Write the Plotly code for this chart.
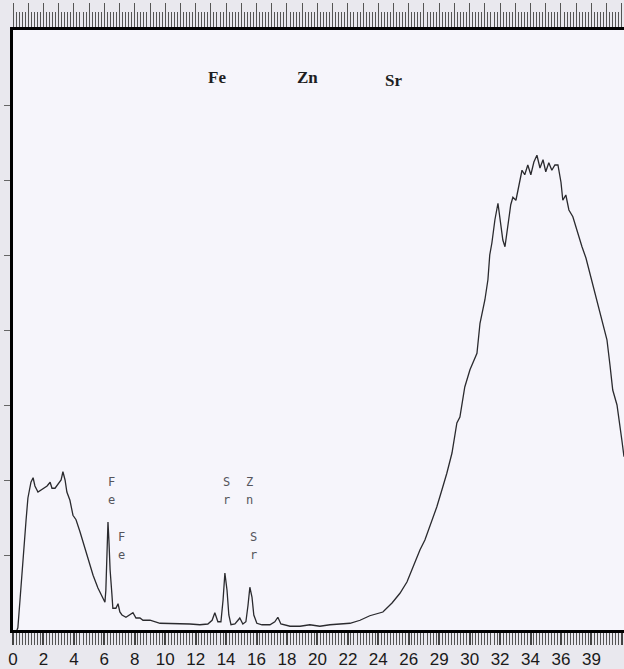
import plotly.graph_objects as go

# spectrum (x in tick-index units, y in counts)
energy = [0.13, 0.16, 0.23, 0.33, 0.43, 0.49, 0.56, 0.59, 0.66, 0.72, 0.82, 0.92, 1.02, 1.12,
          1.22, 1.28, 1.38, 1.48, 1.58, 1.64, 1.71, 1.77, 1.87, 1.97, 2.07, 2.20, 2.30, 2.46,
          2.63, 2.79, 2.96, 3.02, 3.05, 3.09, 3.12, 3.15, 3.19, 3.25, 3.28, 3.38, 3.45, 3.51,
          3.58, 3.71, 3.84, 3.94, 4.04, 4.17, 4.27, 4.50, 4.83, 5.16, 5.48, 5.81, 6.14, 6.40,
          6.54, 6.63, 6.73, 6.83, 6.90, 6.96, 7.03, 7.09, 7.16, 7.29, 7.39, 7.45, 7.55, 7.65,
          7.72, 7.78, 7.85, 7.91, 8.01, 8.18, 8.44, 8.60, 8.70, 8.80, 9.10, 9.43, 9.75, 10.08,
          10.41, 10.74, 11.07, 11.40, 11.72, 12.15, 12.45, 12.71, 12.94, 13.14, 13.37, 13.53,
          13.69, 13.92, 14.09, 14.25, 14.42, 14.58, 14.68, 14.84, 15.01, 15.14, 15.24, 15.34,
          15.44, 15.50, 15.60, 15.66, 15.73, 15.83, 15.93, 16.03, 16.09, 16.16, 16.26, 16.35,
          16.42, 16.52, 16.62, 16.72, 16.81, 16.91, 17.01, 17.11, 17.21, 17.31, 17.41, 17.50,
          17.60, 17.70, 17.80, 17.90, 18.00, 18.06, 18.16, 18.26, 18.39, 18.52, 18.69, 18.82,
          18.95, 19.08, 19.21, 19.34, 19.51, 19.61, 19.70, 19.84, 19.93, 20.00, 20.07]
counts = [0, 3, 40, 100, 147, 176, 189, 197, 203, 192, 184, 187, 189, 192,
          197, 189, 189, 195, 200, 211, 200, 184, 173, 153, 147, 131, 117, 96,
          73, 56, 43, 37, 53, 113, 144, 120, 80, 47, 29, 29, 35, 24,
          20, 17, 20, 23, 16, 16, 13, 13, 9, 9, 8, 8, 7, 8,
          13, 23, 11, 11, 40, 76, 53, 20, 7, 8, 13, 16, 8, 11,
          33, 57, 44, 20, 9, 7, 7, 11, 17, 8, 5, 5, 7, 5,
          7, 8, 9, 13, 19, 24, 36, 49, 64, 84, 107, 120,
          137, 164, 187, 209, 236, 276, 284, 324, 347, 360, 369, 409,
          427, 440, 467, 500, 516, 547, 569, 540, 520, 511, 540, 567,
          577, 573, 593, 613, 607, 620, 607, 624, 633, 616, 627, 611,
          623, 613, 620, 620, 597, 573, 580, 560, 551, 533, 511, 496,
          476, 453, 436, 416, 387, 353, 320, 300, 276, 253, 231]

tick_pos = list(range(21))
tick_text = ["0", "2", "4", "6", "8", "10", "12", "14", "16", "18", "20", "22",
             "24", "26", "29", "30", "32", "34", "36", "39", "40"]

header_text = ["Fe", "Zn", "Sr"]
header_x = [6.70, 9.66, 12.51]
header_y = [737, 737, 733]

peak_chars = ["F", "e", "F", "e", "S", "r", "Z", "n", "S", "r"]
peak_x = [3.22, 3.22, 3.55, 3.55, 7.00, 7.00, 7.78, 7.78, 7.91, 7.91]
peak_y = [197, 173, 124, 100, 197, 173, 197, 173, 124, 100]

fig = go.Figure(
    data = [
        go.Scatter(
            x = energy,
            y = counts,
            mode = "lines",
            line = dict(color = "#2a2a2e", width = 1.3),
            showlegend = False
        ),
        # invisible trace to carry the top ruler axis
        go.Scatter(
            x = [0, 20], y = [0, 0], xaxis = "x2",
            mode = "markers", marker = dict(opacity = 0),
            showlegend = False, hoverinfo = "skip"
        )
    ]
)

for t, x, y in zip(header_text, header_x, header_y):
    fig.add_annotation(x = x, y = y, text = "<b>" + t + "</b>", showarrow = False,
                       font = dict(family = "Liberation Serif", size = 17, color = "#1e1e22"))

for t, x, y in zip(peak_chars, peak_x, peak_y):
    fig.add_annotation(x = x, y = y, text = t, showarrow = False,
                       font = dict(family = "DejaVu Sans Mono", size = 12, color = "#55555c"))

fig.update_layout(
    width = 624,
    height = 669,
    margin = dict(l = 13, r = 0, t = 30, b = 39),
    paper_bgcolor = "#e9e8ee",
    plot_bgcolor = "#f6f5fb",
    xaxis = dict(
        range = [0, 20.07],
        automargin = False,
        tickvals = tick_pos,
        ticktext = tick_text,
        ticks = "outside",
        ticklen = 12,
        tickwidth = 1.5,
        tickcolor = "#444",
        minor = dict(dtick = 0.1, ticks = "outside", ticklen = 12, tickcolor = "#555", tickwidth = 1.2),
        tickfont = dict(family = "Liberation Sans Narrow, Liberation Sans", size = 17, color = "#1a1a1a"),
        showline = True,
        linecolor = "#000",
        linewidth = 3,
        showgrid = False,
        zeroline = False
    ),
    xaxis2 = dict(
        overlaying = "x",
        side = "top",
        range = [0, 20.07],
        automargin = False,
        dtick = 0.5,
        ticks = "outside",
        ticklen = 24,
        tickwidth = 1.2,
        tickcolor = "#555",
        minor = dict(dtick = 0.1, ticks = "outside", ticklen = 15, tickcolor = "#555", tickwidth = 1.2),
        showticklabels = False,
        showline = True,
        linecolor = "#000",
        linewidth = 3,
        showgrid = False,
        zeroline = False
    ),
    yaxis = dict(
        range = [0, 800],
        automargin = False,
        tickvals = [100, 200, 300, 400, 500, 600, 700],
        ticks = "outside",
        ticklen = 6,
        tickcolor = "#666",
        showticklabels = False,
        showline = True,
        linecolor = "#000",
        linewidth = 3,
        showgrid = False,
        zeroline = False
    )
)

# drop the browser's default page margin so the figure sits at the window corner
fig.write_html("out.html", config = {"displayModeBar": False},
               post_script = "document.body.style.margin = '0'; document.body.style.overflow = 'hidden';")
